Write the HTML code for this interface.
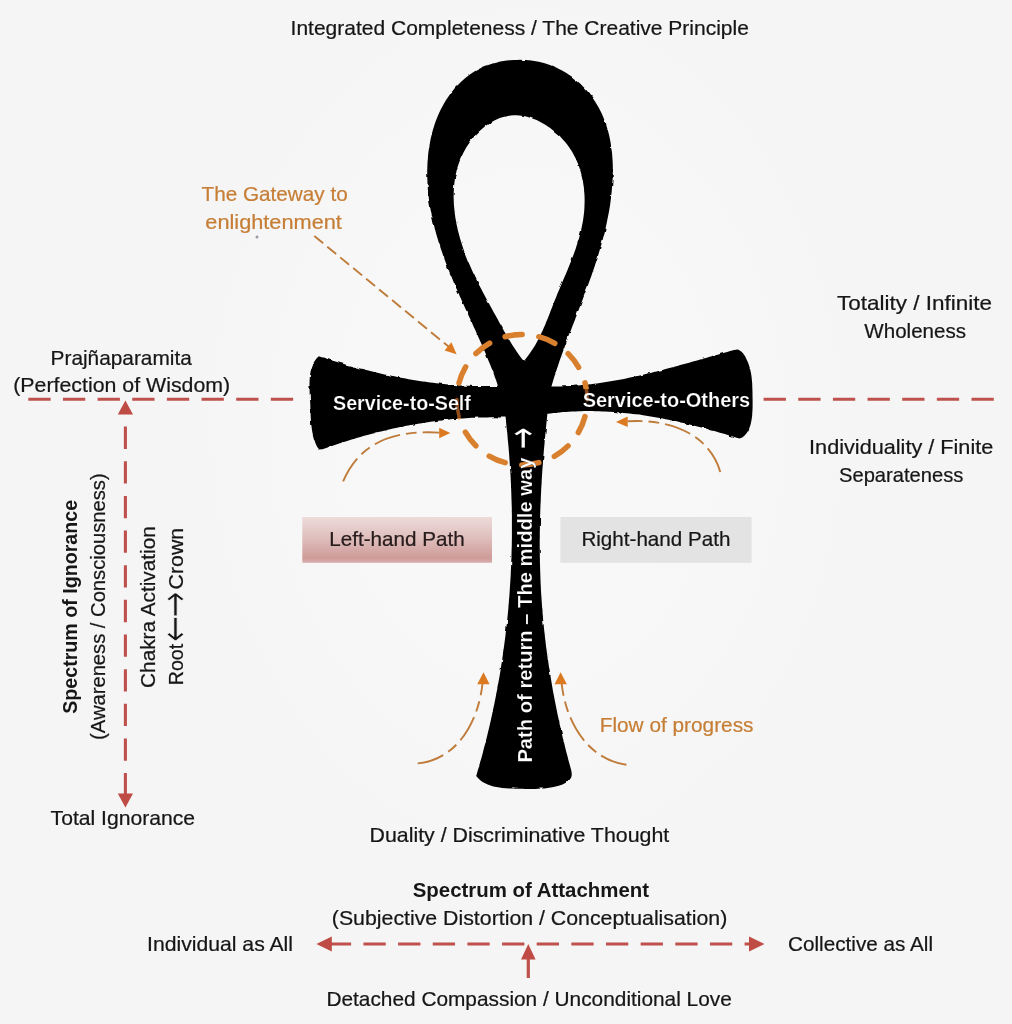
<!DOCTYPE html>
<html lang="en">
<head>
<meta charset="utf-8">
<title>Ankh diagram</title>
<style>
  html, body { margin: 0; padding: 0; background: #f5f5f5; }
  body { width: 1012px; height: 1024px; overflow: hidden; }
  svg { display: block; }
  text { font-family: "Liberation Sans", sans-serif; font-size: 20.3px; fill: #161616; stroke: #161616; stroke-width: 0.22px; }
  .b { font-weight: bold; stroke: none; }
  .ar { font-family: "DejaVu Sans", "Liberation Sans", sans-serif; font-size: 40px; stroke: #f6f6f6; stroke-width: 0.8px; }
  .ar2 { font-family: "DejaVu Sans", "Liberation Sans", sans-serif; font-size: 41px; fill: #ffffff; stroke: #000; stroke-width: 0.15px; }
  .o { fill: #c67e36; stroke: #c67e36; stroke-width: 0.22px; }
  .w { fill: #ffffff; font-weight: bold; stroke: #000; stroke-width: 0.2px; }
  .red { stroke: #bf514c; stroke-width: 3.1; fill: none; stroke-dasharray: 22.3 12.35; }
  .redfill { fill: #bf4b45; stroke: none; }
  .od { stroke: #bf7b3a; stroke-width: 1.9; fill: none; stroke-dasharray: 11.5 5.3; }
  .od2 { stroke: #bf7b3a; stroke-width: 1.9; fill: none; stroke-dasharray: 27 6 10.8 6; }
  .ofill { fill: #dc7a22; stroke: none; }
</style>
</head>
<body>
<svg width="1012" height="1024" viewBox="0 0 1012 1024">
  <defs>
    <linearGradient id="lg" x1="0" y1="0" x2="0" y2="1">
      <stop offset="0" stop-color="#ecdcda"/>
      <stop offset="0.45" stop-color="#dfbfbd"/>
      <stop offset="0.9" stop-color="#cf9b99"/>
      <stop offset="1" stop-color="#d9b0ae"/>
    </linearGradient>
    <filter id="rough" x="-2%" y="-2%" width="104%" height="104%">
      <feTurbulence type="fractalNoise" baseFrequency="0.11" numOctaves="2" seed="7" result="n"/>
      <feDisplacementMap in="SourceGraphic" in2="n" scale="2.6" xChannelSelector="R" yChannelSelector="G" result="d"/>
      <feGaussianBlur in="d" stdDeviation="0.45"/>
    </filter>
    <radialGradient id="glow" cx="0.5" cy="0.5" r="0.5">
      <stop offset="0" stop-color="#ffffff" stop-opacity="0.35"/>
      <stop offset="0.55" stop-color="#ffffff" stop-opacity="0.25"/>
      <stop offset="1" stop-color="#ffffff" stop-opacity="0"/>
    </radialGradient>
  </defs>
  <rect width="1012" height="1024" fill="#f5f5f5"/>
  <!-- soft white halo behind the ankh -->
  <ellipse cx="527" cy="430" rx="360" ry="480" fill="url(#glow)"/>

  <!-- boxes -->
  <rect x="302.3" y="517" width="189.7" height="45.8" fill="url(#lg)"/>
  <rect x="560.4" y="517" width="191.2" height="45.8" fill="#e3e3e3"/>

  <!-- ankh -->
  <path fill="#020202" fill-rule="evenodd" filter="url(#rough)" d="M516.8 59.9L520.0 59.8L523.2 59.9L526.4 60.0L529.5 60.3L532.7 60.7L535.7 61.2L538.8 61.8L541.8 62.5L544.7 63.3L547.7 64.2L550.5 65.3L553.4 66.4L556.2 67.6L558.9 68.9L561.6 70.3L564.2 71.7L566.8 73.3L569.3 74.9L571.7 76.6L574.1 78.4L576.4 80.3L578.7 82.3L580.9 84.3L583.0 86.4L585.0 88.5L587.0 90.7L588.9 93.0L590.7 95.3L592.5 97.7L594.2 100.2L595.8 102.7L597.3 105.2L598.8 107.8L600.2 110.4L601.5 113.1L602.7 115.8L603.8 118.6L604.9 121.3L605.9 124.1L606.8 127.0L607.7 129.8L608.5 132.7L609.2 135.6L609.8 138.5L610.4 141.5L610.9 144.5L611.3 147.4L611.7 150.4L612.1 153.5L612.3 156.5L612.5 159.5L612.7 162.6L612.8 165.6L612.8 168.7L612.8 171.8L612.8 174.8L612.7 177.9L612.5 181.0L612.3 184.1L612.1 187.1L611.8 190.2L611.5 193.3L611.2 196.3L610.8 199.4L610.4 202.4L610.0 205.4L609.5 208.5L609.0 211.5L608.4 214.5L607.8 217.4L607.2 220.4L606.6 223.4L606.0 226.3L605.3 229.3L604.6 232.2L603.8 235.2L603.1 238.1L602.3 241.0L601.5 243.9L600.7 246.8L599.8 249.7L599.0 252.6L598.1 255.5L597.2 258.4L596.3 261.3L595.3 264.2L594.4 267.0L593.4 269.9L592.4 272.7L591.5 275.6L590.4 278.4L589.4 281.3L588.4 284.1L587.4 287.0L586.3 289.8L585.3 292.6L584.2 295.5L583.1 298.3L582.1 301.1L581.0 304.0L579.9 306.8L578.8 309.6L577.7 312.4L576.7 315.3L575.6 318.1L574.5 320.9L573.4 323.7L572.3 326.6L571.2 329.4L570.1 332.2L569.1 335.0L568.0 337.9L566.9 340.7L565.9 343.5L564.8 346.4L563.8 349.2L562.8 352.0L561.7 354.9L560.7 357.7L559.7 360.6L558.7 363.5L557.8 366.3L556.8 369.2L555.9 372.1L554.9 374.9L554.0 377.8L553.1 380.7L552.3 383.6L551.4 386.5L554.5 386.5L557.5 386.5L560.6 386.4L563.6 386.3L566.7 386.2L569.7 386.0L572.8 385.9L575.8 385.6L578.8 385.4L581.9 385.1L584.9 384.8L587.9 384.5L591.0 384.2L594.0 383.8L597.0 383.4L600.0 383.0L603.0 382.5L606.0 382.1L609.0 381.6L612.0 381.1L615.0 380.6L618.0 380.0L621.0 379.4L624.0 378.9L627.0 378.3L630.0 377.6L633.0 377.0L635.9 376.3L638.9 375.7L641.9 375.0L644.9 374.3L647.8 373.6L650.8 372.9L653.8 372.1L656.7 371.4L659.7 370.6L662.6 369.9L665.6 369.1L668.5 368.3L671.5 367.5L674.4 366.7L677.4 365.9L680.3 365.1L683.3 364.3L686.2 363.5L689.2 362.7L692.1 361.8L695.0 361.0L698.0 360.2L700.9 359.3L703.8 358.5L706.8 357.7L709.7 356.8L712.6 356.0L715.6 355.2L718.5 354.4L721.4 353.5L724.3 352.7L727.2 351.9L730.2 351.1L733.1 350.3L736.0 349.5L738.9 350.0L741.3 351.5L743.4 353.7L745.2 356.5L746.6 359.4L747.9 362.3L749.0 365.3L749.9 368.2L750.6 371.2L751.2 374.2L751.6 377.2L751.9 380.3L752.2 383.4L752.3 386.5L752.4 389.7L752.5 392.9L752.5 396.2L752.6 399.5L752.6 402.9L752.6 406.3L752.5 409.7L752.3 413.0L752.1 416.3L751.6 419.5L751.0 422.7L750.3 425.6L749.2 428.4L748.0 431.1L746.4 433.5L744.6 435.6L742.3 437.4L739.5 438.6L736.6 437.7L733.7 436.8L730.7 435.9L727.8 435.0L724.9 434.1L722.0 433.3L719.0 432.4L716.1 431.6L713.2 430.7L710.2 429.9L707.3 429.1L704.3 428.3L701.4 427.5L698.4 426.7L695.4 426.0L692.5 425.2L689.5 424.5L686.5 423.8L683.6 423.1L680.6 422.4L677.6 421.7L674.6 421.1L671.7 420.4L668.7 419.8L665.7 419.2L662.7 418.6L659.7 418.1L656.7 417.5L653.7 417.0L650.7 416.5L647.7 416.0L644.7 415.5L641.7 415.1L638.7 414.6L635.7 414.2L632.7 413.9L629.6 413.5L626.6 413.2L623.6 412.9L620.6 412.6L617.5 412.3L614.5 412.1L611.5 411.8L608.5 411.7L605.4 411.5L602.4 411.4L599.3 411.2L596.3 411.2L593.3 411.1L590.2 411.1L587.2 411.1L584.1 411.1L581.1 411.2L578.0 411.2L575.0 411.4L571.9 411.5L568.8 411.7L565.8 411.9L562.7 412.1L559.7 412.4L556.6 412.7L553.5 413.0L550.5 413.4L547.4 413.8L547.1 416.8L546.8 419.8L546.5 422.8L546.2 425.8L545.9 428.9L545.6 431.9L545.3 434.9L545.0 437.9L544.7 440.9L544.5 444.0L544.2 447.0L543.9 450.0L543.7 453.0L543.4 456.0L543.2 459.1L543.0 462.1L542.8 465.1L542.5 468.1L542.3 471.2L542.1 474.2L541.9 477.2L541.7 480.2L541.6 483.3L541.4 486.3L541.2 489.3L541.1 492.3L540.9 495.4L540.8 498.4L540.7 501.4L540.5 504.5L540.4 507.5L540.3 510.5L540.2 513.5L540.1 516.6L540.0 519.6L540.0 522.6L539.9 525.6L539.9 528.7L539.8 531.7L539.8 534.7L539.8 537.8L539.7 540.8L539.7 543.8L539.7 546.8L539.8 549.9L539.8 552.9L539.8 555.9L539.9 558.9L539.9 562.0L540.0 565.0L540.1 568.0L540.2 571.0L540.3 574.1L540.4 577.1L540.5 580.1L540.6 583.1L540.8 586.1L540.9 589.2L541.1 592.2L541.3 595.2L541.5 598.2L541.7 601.2L541.9 604.3L542.1 607.3L542.4 610.3L542.6 613.3L542.9 616.3L543.1 619.3L543.4 622.3L543.7 625.3L544.0 628.3L544.3 631.3L544.7 634.3L545.0 637.4L545.4 640.4L545.7 643.4L546.1 646.4L546.5 649.4L546.9 652.4L547.3 655.4L547.7 658.3L548.2 661.3L548.6 664.3L549.0 667.3L549.5 670.3L550.0 673.3L550.5 676.3L551.0 679.3L551.5 682.3L552.0 685.2L552.5 688.2L553.0 691.2L553.6 694.2L554.2 697.2L554.7 700.1L555.3 703.1L555.9 706.1L556.5 709.0L557.1 712.0L557.7 715.0L558.4 718.0L559.0 720.9L559.6 723.9L560.3 726.8L561.0 729.8L561.7 732.7L562.3 735.7L563.0 738.7L563.8 741.6L564.5 744.6L565.2 747.5L565.9 750.4L566.7 753.4L567.5 756.3L568.2 759.3L569.0 762.2L569.8 765.1L570.6 768.1L571.4 771.0L571.8 774.4L571.3 777.3L569.9 779.6L567.8 781.5L565.3 783.1L562.5 784.4L559.5 785.4L556.6 786.3L553.6 787.0L550.6 787.6L547.5 788.1L544.4 788.4L541.3 788.6L538.2 788.8L535.0 788.9L531.9 788.9L528.7 788.9L525.4 788.9L522.2 788.8L518.9 788.8L515.6 788.7L512.3 788.6L509.0 788.5L505.8 788.3L502.6 788.0L499.4 787.6L496.4 787.1L493.4 786.4L490.5 785.5L487.7 784.5L485.1 783.3L482.6 781.9L480.3 780.2L478.2 778.2L476.2 776.0L477.1 773.1L477.9 770.1L478.8 767.2L479.6 764.3L480.4 761.3L481.3 758.4L482.1 755.5L482.9 752.5L483.6 749.6L484.4 746.6L485.2 743.7L485.9 740.7L486.7 737.8L487.4 734.8L488.1 731.8L488.8 728.9L489.5 725.9L490.2 722.9L490.9 720.0L491.5 717.0L492.2 714.0L492.8 711.1L493.4 708.1L494.1 705.1L494.7 702.1L495.3 699.1L495.9 696.1L496.4 693.1L497.0 690.2L497.6 687.2L498.1 684.2L498.6 681.2L499.2 678.2L499.7 675.2L500.2 672.2L500.7 669.2L501.1 666.2L501.6 663.2L502.1 660.2L502.5 657.2L503.0 654.1L503.4 651.1L503.8 648.1L504.2 645.1L504.6 642.1L505.0 639.1L505.4 636.0L505.7 633.0L506.1 630.0L506.4 627.0L506.8 624.0L507.1 620.9L507.4 617.9L507.7 614.9L508.0 611.9L508.3 608.8L508.5 605.8L508.8 602.8L509.0 599.7L509.3 596.7L509.5 593.7L509.7 590.6L509.9 587.6L510.1 584.6L510.3 581.5L510.5 578.5L510.7 575.5L510.8 572.4L511.0 569.4L511.1 566.3L511.2 563.3L511.3 560.3L511.5 557.2L511.5 554.2L511.6 551.1L511.7 548.1L511.8 545.1L511.8 542.0L511.9 539.0L511.9 535.9L511.9 532.9L511.9 529.9L511.9 526.8L511.9 523.8L511.9 520.7L511.9 517.7L511.9 514.6L511.8 511.6L511.8 508.6L511.7 505.5L511.6 502.5L511.5 499.4L511.4 496.4L511.3 493.3L511.2 490.3L511.1 487.3L511.0 484.2L510.8 481.2L510.7 478.1L510.5 475.1L510.3 472.1L510.1 469.0L509.9 466.0L509.7 463.0L509.5 459.9L509.3 456.9L509.1 453.9L508.8 450.8L508.6 447.8L508.3 444.8L508.0 441.7L507.7 438.7L507.5 435.7L507.2 432.6L506.8 429.6L506.5 426.6L506.2 423.5L505.9 420.5L505.5 417.5L502.4 417.4L499.3 417.4L496.3 417.3L493.2 417.3L490.1 417.3L487.0 417.4L484.0 417.4L480.9 417.5L477.8 417.6L474.8 417.7L471.7 417.8L468.6 418.0L465.6 418.2L462.5 418.4L459.5 418.6L456.4 418.9L453.4 419.1L450.3 419.4L447.3 419.7L444.2 420.1L441.2 420.4L438.2 420.8L435.1 421.2L432.1 421.6L429.1 422.0L426.1 422.4L423.0 422.9L420.0 423.4L417.0 423.9L414.0 424.4L411.0 425.0L408.0 425.5L405.0 426.1L402.0 426.7L399.0 427.3L396.0 428.0L393.0 428.6L390.0 429.3L387.0 430.0L384.0 430.7L381.1 431.4L378.1 432.1L375.1 432.9L372.2 433.7L369.2 434.5L366.3 435.3L363.3 436.1L360.4 436.9L357.4 437.8L354.5 438.7L351.6 439.5L348.6 440.5L345.7 441.4L342.8 442.3L339.9 443.3L337.0 444.2L334.1 445.2L331.2 446.2L328.3 447.2L325.4 448.3L322.5 449.3L319.4 449.5L317.4 447.3L316.0 444.4L314.9 441.4L313.9 438.4L313.1 435.4L312.4 432.4L311.9 429.4L311.5 426.3L311.1 423.3L310.9 420.2L310.7 417.0L310.6 413.9L310.5 410.7L310.4 407.4L310.3 404.2L310.1 400.8L309.9 397.5L309.7 394.1L309.6 390.8L309.5 387.4L309.5 384.1L309.6 380.8L309.8 377.6L310.1 374.5L310.6 371.5L311.4 368.6L312.3 365.8L313.5 363.1L315.0 360.6L316.7 358.3L318.8 356.2L321.7 357.2L324.7 358.1L327.6 359.0L330.6 360.0L333.5 360.9L336.5 361.8L339.5 362.7L342.4 363.6L345.4 364.4L348.4 365.3L351.4 366.1L354.4 366.9L357.3 367.7L360.3 368.5L363.3 369.3L366.3 370.1L369.3 370.8L372.3 371.6L375.3 372.3L378.4 373.0L381.4 373.7L384.4 374.4L387.4 375.0L390.4 375.7L393.5 376.3L396.5 376.9L399.5 377.5L402.6 378.1L405.6 378.6L408.7 379.2L411.7 379.7L414.8 380.2L417.8 380.7L420.9 381.2L423.9 381.6L427.0 382.0L430.0 382.4L433.1 382.8L436.2 383.2L439.3 383.5L442.3 383.9L445.4 384.2L448.5 384.4L451.6 384.7L454.6 384.9L457.7 385.2L460.8 385.4L463.9 385.5L467.0 385.7L470.1 385.8L473.2 385.9L476.3 386.0L479.4 386.1L482.5 386.1L485.6 386.1L488.7 386.1L491.8 386.1L494.9 386.0L498.0 385.9L497.0 383.1L496.1 380.3L495.0 377.4L494.0 374.6L493.0 371.8L491.9 369.0L490.8 366.2L489.7 363.5L488.5 360.7L487.4 357.9L486.2 355.1L485.1 352.3L483.9 349.5L482.7 346.8L481.5 344.0L480.2 341.2L479.0 338.5L477.8 335.7L476.5 332.9L475.3 330.1L474.0 327.4L472.7 324.6L471.5 321.8L470.2 319.1L468.9 316.3L467.7 313.5L466.4 310.8L465.1 308.0L463.9 305.2L462.6 302.4L461.4 299.7L460.1 296.9L458.9 294.1L457.7 291.3L456.4 288.5L455.2 285.7L454.0 282.9L452.8 280.1L451.7 277.3L450.5 274.5L449.4 271.7L448.2 268.8L447.1 266.0L446.0 263.2L445.0 260.4L443.9 257.5L442.9 254.7L441.9 251.8L440.9 248.9L440.0 246.1L439.0 243.2L438.1 240.3L437.3 237.4L436.4 234.5L435.6 231.6L434.8 228.7L434.1 225.7L433.3 222.8L432.7 219.8L432.0 216.9L431.4 213.9L430.8 210.9L430.3 207.9L429.8 204.9L429.3 201.9L428.9 198.9L428.6 195.9L428.2 192.8L427.9 189.8L427.7 186.7L427.5 183.7L427.4 180.6L427.3 177.5L427.2 174.5L427.2 171.4L427.3 168.4L427.4 165.3L427.5 162.2L427.8 159.2L428.0 156.2L428.3 153.1L428.7 150.1L429.2 147.1L429.7 144.2L430.2 141.2L430.8 138.2L431.5 135.3L432.2 132.4L433.0 129.5L433.9 126.7L434.8 123.8L435.8 121.0L436.9 118.3L438.0 115.5L439.2 112.8L440.5 110.1L441.8 107.5L443.2 104.9L444.7 102.3L446.2 99.8L447.8 97.4L449.5 95.0L451.2 92.6L453.0 90.4L454.9 88.1L456.9 86.0L458.9 83.9L460.9 81.9L463.1 79.9L465.3 78.0L467.6 76.2L469.9 74.5L472.4 72.8L474.8 71.3L477.4 69.8L480.0 68.4L482.7 67.1L485.5 66.0L488.3 64.9L491.2 63.9L494.2 63.0L497.2 62.2L500.3 61.5L503.4 61.0L506.7 60.5L510.0 60.2L513.4 60.0L516.8 59.9Z M523.8 361.1L525.8 358.7L527.7 356.3L529.5 353.8L531.2 351.3L532.9 348.8L534.5 346.3L536.0 343.7L537.4 341.1L538.8 338.4L540.2 335.8L541.4 333.1L542.7 330.4L543.9 327.6L545.1 324.9L546.2 322.1L547.3 319.4L548.5 316.6L549.6 313.8L550.6 311.0L551.7 308.2L552.8 305.4L553.9 302.6L555.0 299.7L556.2 296.9L557.3 294.1L558.5 291.3L559.7 288.5L560.8 285.7L562.0 282.9L563.2 280.1L564.4 277.3L565.6 274.5L566.8 271.7L567.9 268.9L569.1 266.0L570.2 263.2L571.4 260.4L572.4 257.6L573.5 254.7L574.5 251.9L575.6 249.0L576.5 246.1L577.4 243.3L578.3 240.4L579.2 237.5L580.0 234.6L580.7 231.7L581.4 228.7L582.0 225.8L582.6 222.8L583.1 219.9L583.5 216.9L583.9 213.9L584.2 210.9L584.4 207.9L584.5 204.9L584.6 201.9L584.6 198.8L584.5 195.8L584.3 192.8L584.1 189.8L583.8 186.9L583.3 183.9L582.9 181.0L582.3 178.0L581.6 175.1L580.8 172.3L580.0 169.4L579.0 166.6L578.0 163.8L576.8 161.1L575.6 158.3L574.2 155.7L572.8 153.1L571.3 150.5L569.6 147.9L567.9 145.5L566.0 143.0L564.0 140.7L561.9 138.4L559.8 136.1L557.5 134.0L555.1 131.9L552.6 129.9L550.1 128.0L547.5 126.2L544.9 124.5L542.1 122.9L539.4 121.4L536.6 120.1L533.7 118.9L530.9 117.9L528.0 117.0L525.1 116.3L522.2 115.8L519.3 115.4L516.4 115.3L513.6 115.3L510.7 115.5L507.9 115.9L505.1 116.5L502.4 117.2L499.7 118.1L497.0 119.2L494.4 120.5L491.8 121.9L489.3 123.4L486.9 125.0L484.5 126.8L482.2 128.7L479.9 130.7L477.7 132.8L475.6 135.0L473.6 137.3L471.7 139.7L469.8 142.2L468.1 144.7L466.4 147.3L464.9 150.0L463.4 152.7L462.1 155.4L460.8 158.2L459.7 161.0L458.7 163.8L457.7 166.7L456.9 169.6L456.2 172.5L455.6 175.5L455.0 178.4L454.6 181.4L454.2 184.4L454.0 187.4L453.8 190.4L453.7 193.5L453.6 196.5L453.7 199.6L453.8 202.6L454.0 205.7L454.3 208.8L454.6 211.8L455.0 214.9L455.4 217.9L456.0 220.9L456.5 224.0L457.2 227.0L457.8 230.0L458.6 233.0L459.4 235.9L460.2 238.9L461.1 241.8L462.0 244.7L462.9 247.5L463.9 250.4L464.9 253.2L466.0 256.0L467.1 258.8L468.2 261.6L469.4 264.3L470.6 267.1L471.8 269.8L473.0 272.5L474.3 275.2L475.6 277.9L476.9 280.6L478.3 283.3L479.6 285.9L481.0 288.6L482.4 291.3L483.8 293.9L485.2 296.5L486.6 299.2L488.0 301.8L489.5 304.4L490.9 307.1L492.4 309.7L493.8 312.4L495.3 315.0L496.7 317.6L498.2 320.3L499.6 322.9L501.1 325.6L502.6 328.2L504.0 330.9L505.5 333.5L507.0 336.1L508.6 338.7L510.1 341.3L511.7 343.9L513.3 346.4L515.0 349.0L516.6 351.5L518.4 353.9L520.1 356.4L521.9 358.7L523.8 361.1Z"/>

  <!-- red dashed axes -->
  <path class="red" d="M28.3 399.2H293.5"/>
  <path class="red" d="M763.6 399.2H994.5"/>
  <path class="red" d="M125.4 426.6V795"/>
  <path class="redfill" d="M125.4 400.6L133 414.6H117.8Z"/>
  <path class="redfill" d="M125.4 807.6L133 793.4H117.8Z"/>
  <path class="red" d="M328.8 944H750"/>
  <path class="redfill" d="M316.4 944L331.8 936.4V951.6Z"/>
  <path class="redfill" d="M764.4 944L749 936.4V951.6Z"/>
  <path d="M528.3 978V956" stroke="#bf514c" stroke-width="3.2" fill="none"/>
  <path class="redfill" d="M528.3 944L535.6 959.4H521Z"/>

  <!-- orange dashed circle -->
  <clipPath id="ak"><path clip-rule="evenodd" d="M516.8 59.9L520.0 59.8L523.2 59.9L526.4 60.0L529.5 60.3L532.7 60.7L535.7 61.2L538.8 61.8L541.8 62.5L544.7 63.3L547.7 64.2L550.5 65.3L553.4 66.4L556.2 67.6L558.9 68.9L561.6 70.3L564.2 71.7L566.8 73.3L569.3 74.9L571.7 76.6L574.1 78.4L576.4 80.3L578.7 82.3L580.9 84.3L583.0 86.4L585.0 88.5L587.0 90.7L588.9 93.0L590.7 95.3L592.5 97.7L594.2 100.2L595.8 102.7L597.3 105.2L598.8 107.8L600.2 110.4L601.5 113.1L602.7 115.8L603.8 118.6L604.9 121.3L605.9 124.1L606.8 127.0L607.7 129.8L608.5 132.7L609.2 135.6L609.8 138.5L610.4 141.5L610.9 144.5L611.3 147.4L611.7 150.4L612.1 153.5L612.3 156.5L612.5 159.5L612.7 162.6L612.8 165.6L612.8 168.7L612.8 171.8L612.8 174.8L612.7 177.9L612.5 181.0L612.3 184.1L612.1 187.1L611.8 190.2L611.5 193.3L611.2 196.3L610.8 199.4L610.4 202.4L610.0 205.4L609.5 208.5L609.0 211.5L608.4 214.5L607.8 217.4L607.2 220.4L606.6 223.4L606.0 226.3L605.3 229.3L604.6 232.2L603.8 235.2L603.1 238.1L602.3 241.0L601.5 243.9L600.7 246.8L599.8 249.7L599.0 252.6L598.1 255.5L597.2 258.4L596.3 261.3L595.3 264.2L594.4 267.0L593.4 269.9L592.4 272.7L591.5 275.6L590.4 278.4L589.4 281.3L588.4 284.1L587.4 287.0L586.3 289.8L585.3 292.6L584.2 295.5L583.1 298.3L582.1 301.1L581.0 304.0L579.9 306.8L578.8 309.6L577.7 312.4L576.7 315.3L575.6 318.1L574.5 320.9L573.4 323.7L572.3 326.6L571.2 329.4L570.1 332.2L569.1 335.0L568.0 337.9L566.9 340.7L565.9 343.5L564.8 346.4L563.8 349.2L562.8 352.0L561.7 354.9L560.7 357.7L559.7 360.6L558.7 363.5L557.8 366.3L556.8 369.2L555.9 372.1L554.9 374.9L554.0 377.8L553.1 380.7L552.3 383.6L551.4 386.5L554.5 386.5L557.5 386.5L560.6 386.4L563.6 386.3L566.7 386.2L569.7 386.0L572.8 385.9L575.8 385.6L578.8 385.4L581.9 385.1L584.9 384.8L587.9 384.5L591.0 384.2L594.0 383.8L597.0 383.4L600.0 383.0L603.0 382.5L606.0 382.1L609.0 381.6L612.0 381.1L615.0 380.6L618.0 380.0L621.0 379.4L624.0 378.9L627.0 378.3L630.0 377.6L633.0 377.0L635.9 376.3L638.9 375.7L641.9 375.0L644.9 374.3L647.8 373.6L650.8 372.9L653.8 372.1L656.7 371.4L659.7 370.6L662.6 369.9L665.6 369.1L668.5 368.3L671.5 367.5L674.4 366.7L677.4 365.9L680.3 365.1L683.3 364.3L686.2 363.5L689.2 362.7L692.1 361.8L695.0 361.0L698.0 360.2L700.9 359.3L703.8 358.5L706.8 357.7L709.7 356.8L712.6 356.0L715.6 355.2L718.5 354.4L721.4 353.5L724.3 352.7L727.2 351.9L730.2 351.1L733.1 350.3L736.0 349.5L738.9 350.0L741.3 351.5L743.4 353.7L745.2 356.5L746.6 359.4L747.9 362.3L749.0 365.3L749.9 368.2L750.6 371.2L751.2 374.2L751.6 377.2L751.9 380.3L752.2 383.4L752.3 386.5L752.4 389.7L752.5 392.9L752.5 396.2L752.6 399.5L752.6 402.9L752.6 406.3L752.5 409.7L752.3 413.0L752.1 416.3L751.6 419.5L751.0 422.7L750.3 425.6L749.2 428.4L748.0 431.1L746.4 433.5L744.6 435.6L742.3 437.4L739.5 438.6L736.6 437.7L733.7 436.8L730.7 435.9L727.8 435.0L724.9 434.1L722.0 433.3L719.0 432.4L716.1 431.6L713.2 430.7L710.2 429.9L707.3 429.1L704.3 428.3L701.4 427.5L698.4 426.7L695.4 426.0L692.5 425.2L689.5 424.5L686.5 423.8L683.6 423.1L680.6 422.4L677.6 421.7L674.6 421.1L671.7 420.4L668.7 419.8L665.7 419.2L662.7 418.6L659.7 418.1L656.7 417.5L653.7 417.0L650.7 416.5L647.7 416.0L644.7 415.5L641.7 415.1L638.7 414.6L635.7 414.2L632.7 413.9L629.6 413.5L626.6 413.2L623.6 412.9L620.6 412.6L617.5 412.3L614.5 412.1L611.5 411.8L608.5 411.7L605.4 411.5L602.4 411.4L599.3 411.2L596.3 411.2L593.3 411.1L590.2 411.1L587.2 411.1L584.1 411.1L581.1 411.2L578.0 411.2L575.0 411.4L571.9 411.5L568.8 411.7L565.8 411.9L562.7 412.1L559.7 412.4L556.6 412.7L553.5 413.0L550.5 413.4L547.4 413.8L547.1 416.8L546.8 419.8L546.5 422.8L546.2 425.8L545.9 428.9L545.6 431.9L545.3 434.9L545.0 437.9L544.7 440.9L544.5 444.0L544.2 447.0L543.9 450.0L543.7 453.0L543.4 456.0L543.2 459.1L543.0 462.1L542.8 465.1L542.5 468.1L542.3 471.2L542.1 474.2L541.9 477.2L541.7 480.2L541.6 483.3L541.4 486.3L541.2 489.3L541.1 492.3L540.9 495.4L540.8 498.4L540.7 501.4L540.5 504.5L540.4 507.5L540.3 510.5L540.2 513.5L540.1 516.6L540.0 519.6L540.0 522.6L539.9 525.6L539.9 528.7L539.8 531.7L539.8 534.7L539.8 537.8L539.7 540.8L539.7 543.8L539.7 546.8L539.8 549.9L539.8 552.9L539.8 555.9L539.9 558.9L539.9 562.0L540.0 565.0L540.1 568.0L540.2 571.0L540.3 574.1L540.4 577.1L540.5 580.1L540.6 583.1L540.8 586.1L540.9 589.2L541.1 592.2L541.3 595.2L541.5 598.2L541.7 601.2L541.9 604.3L542.1 607.3L542.4 610.3L542.6 613.3L542.9 616.3L543.1 619.3L543.4 622.3L543.7 625.3L544.0 628.3L544.3 631.3L544.7 634.3L545.0 637.4L545.4 640.4L545.7 643.4L546.1 646.4L546.5 649.4L546.9 652.4L547.3 655.4L547.7 658.3L548.2 661.3L548.6 664.3L549.0 667.3L549.5 670.3L550.0 673.3L550.5 676.3L551.0 679.3L551.5 682.3L552.0 685.2L552.5 688.2L553.0 691.2L553.6 694.2L554.2 697.2L554.7 700.1L555.3 703.1L555.9 706.1L556.5 709.0L557.1 712.0L557.7 715.0L558.4 718.0L559.0 720.9L559.6 723.9L560.3 726.8L561.0 729.8L561.7 732.7L562.3 735.7L563.0 738.7L563.8 741.6L564.5 744.6L565.2 747.5L565.9 750.4L566.7 753.4L567.5 756.3L568.2 759.3L569.0 762.2L569.8 765.1L570.6 768.1L571.4 771.0L571.8 774.4L571.3 777.3L569.9 779.6L567.8 781.5L565.3 783.1L562.5 784.4L559.5 785.4L556.6 786.3L553.6 787.0L550.6 787.6L547.5 788.1L544.4 788.4L541.3 788.6L538.2 788.8L535.0 788.9L531.9 788.9L528.7 788.9L525.4 788.9L522.2 788.8L518.9 788.8L515.6 788.7L512.3 788.6L509.0 788.5L505.8 788.3L502.6 788.0L499.4 787.6L496.4 787.1L493.4 786.4L490.5 785.5L487.7 784.5L485.1 783.3L482.6 781.9L480.3 780.2L478.2 778.2L476.2 776.0L477.1 773.1L477.9 770.1L478.8 767.2L479.6 764.3L480.4 761.3L481.3 758.4L482.1 755.5L482.9 752.5L483.6 749.6L484.4 746.6L485.2 743.7L485.9 740.7L486.7 737.8L487.4 734.8L488.1 731.8L488.8 728.9L489.5 725.9L490.2 722.9L490.9 720.0L491.5 717.0L492.2 714.0L492.8 711.1L493.4 708.1L494.1 705.1L494.7 702.1L495.3 699.1L495.9 696.1L496.4 693.1L497.0 690.2L497.6 687.2L498.1 684.2L498.6 681.2L499.2 678.2L499.7 675.2L500.2 672.2L500.7 669.2L501.1 666.2L501.6 663.2L502.1 660.2L502.5 657.2L503.0 654.1L503.4 651.1L503.8 648.1L504.2 645.1L504.6 642.1L505.0 639.1L505.4 636.0L505.7 633.0L506.1 630.0L506.4 627.0L506.8 624.0L507.1 620.9L507.4 617.9L507.7 614.9L508.0 611.9L508.3 608.8L508.5 605.8L508.8 602.8L509.0 599.7L509.3 596.7L509.5 593.7L509.7 590.6L509.9 587.6L510.1 584.6L510.3 581.5L510.5 578.5L510.7 575.5L510.8 572.4L511.0 569.4L511.1 566.3L511.2 563.3L511.3 560.3L511.5 557.2L511.5 554.2L511.6 551.1L511.7 548.1L511.8 545.1L511.8 542.0L511.9 539.0L511.9 535.9L511.9 532.9L511.9 529.9L511.9 526.8L511.9 523.8L511.9 520.7L511.9 517.7L511.9 514.6L511.8 511.6L511.8 508.6L511.7 505.5L511.6 502.5L511.5 499.4L511.4 496.4L511.3 493.3L511.2 490.3L511.1 487.3L511.0 484.2L510.8 481.2L510.7 478.1L510.5 475.1L510.3 472.1L510.1 469.0L509.9 466.0L509.7 463.0L509.5 459.9L509.3 456.9L509.1 453.9L508.8 450.8L508.6 447.8L508.3 444.8L508.0 441.7L507.7 438.7L507.5 435.7L507.2 432.6L506.8 429.6L506.5 426.6L506.2 423.5L505.9 420.5L505.5 417.5L502.4 417.4L499.3 417.4L496.3 417.3L493.2 417.3L490.1 417.3L487.0 417.4L484.0 417.4L480.9 417.5L477.8 417.6L474.8 417.7L471.7 417.8L468.6 418.0L465.6 418.2L462.5 418.4L459.5 418.6L456.4 418.9L453.4 419.1L450.3 419.4L447.3 419.7L444.2 420.1L441.2 420.4L438.2 420.8L435.1 421.2L432.1 421.6L429.1 422.0L426.1 422.4L423.0 422.9L420.0 423.4L417.0 423.9L414.0 424.4L411.0 425.0L408.0 425.5L405.0 426.1L402.0 426.7L399.0 427.3L396.0 428.0L393.0 428.6L390.0 429.3L387.0 430.0L384.0 430.7L381.1 431.4L378.1 432.1L375.1 432.9L372.2 433.7L369.2 434.5L366.3 435.3L363.3 436.1L360.4 436.9L357.4 437.8L354.5 438.7L351.6 439.5L348.6 440.5L345.7 441.4L342.8 442.3L339.9 443.3L337.0 444.2L334.1 445.2L331.2 446.2L328.3 447.2L325.4 448.3L322.5 449.3L319.4 449.5L317.4 447.3L316.0 444.4L314.9 441.4L313.9 438.4L313.1 435.4L312.4 432.4L311.9 429.4L311.5 426.3L311.1 423.3L310.9 420.2L310.7 417.0L310.6 413.9L310.5 410.7L310.4 407.4L310.3 404.2L310.1 400.8L309.9 397.5L309.7 394.1L309.6 390.8L309.5 387.4L309.5 384.1L309.6 380.8L309.8 377.6L310.1 374.5L310.6 371.5L311.4 368.6L312.3 365.8L313.5 363.1L315.0 360.6L316.7 358.3L318.8 356.2L321.7 357.2L324.7 358.1L327.6 359.0L330.6 360.0L333.5 360.9L336.5 361.8L339.5 362.7L342.4 363.6L345.4 364.4L348.4 365.3L351.4 366.1L354.4 366.9L357.3 367.7L360.3 368.5L363.3 369.3L366.3 370.1L369.3 370.8L372.3 371.6L375.3 372.3L378.4 373.0L381.4 373.7L384.4 374.4L387.4 375.0L390.4 375.7L393.5 376.3L396.5 376.9L399.5 377.5L402.6 378.1L405.6 378.6L408.7 379.2L411.7 379.7L414.8 380.2L417.8 380.7L420.9 381.2L423.9 381.6L427.0 382.0L430.0 382.4L433.1 382.8L436.2 383.2L439.3 383.5L442.3 383.9L445.4 384.2L448.5 384.4L451.6 384.7L454.6 384.9L457.7 385.2L460.8 385.4L463.9 385.5L467.0 385.7L470.1 385.8L473.2 385.9L476.3 386.0L479.4 386.1L482.5 386.1L485.6 386.1L488.7 386.1L491.8 386.1L494.9 386.0L498.0 385.9L497.0 383.1L496.1 380.3L495.0 377.4L494.0 374.6L493.0 371.8L491.9 369.0L490.8 366.2L489.7 363.5L488.5 360.7L487.4 357.9L486.2 355.1L485.1 352.3L483.9 349.5L482.7 346.8L481.5 344.0L480.2 341.2L479.0 338.5L477.8 335.7L476.5 332.9L475.3 330.1L474.0 327.4L472.7 324.6L471.5 321.8L470.2 319.1L468.9 316.3L467.7 313.5L466.4 310.8L465.1 308.0L463.9 305.2L462.6 302.4L461.4 299.7L460.1 296.9L458.9 294.1L457.7 291.3L456.4 288.5L455.2 285.7L454.0 282.9L452.8 280.1L451.7 277.3L450.5 274.5L449.4 271.7L448.2 268.8L447.1 266.0L446.0 263.2L445.0 260.4L443.9 257.5L442.9 254.7L441.9 251.8L440.9 248.9L440.0 246.1L439.0 243.2L438.1 240.3L437.3 237.4L436.4 234.5L435.6 231.6L434.8 228.7L434.1 225.7L433.3 222.8L432.7 219.8L432.0 216.9L431.4 213.9L430.8 210.9L430.3 207.9L429.8 204.9L429.3 201.9L428.9 198.9L428.6 195.9L428.2 192.8L427.9 189.8L427.7 186.7L427.5 183.7L427.4 180.6L427.3 177.5L427.2 174.5L427.2 171.4L427.3 168.4L427.4 165.3L427.5 162.2L427.8 159.2L428.0 156.2L428.3 153.1L428.7 150.1L429.2 147.1L429.7 144.2L430.2 141.2L430.8 138.2L431.5 135.3L432.2 132.4L433.0 129.5L433.9 126.7L434.8 123.8L435.8 121.0L436.9 118.3L438.0 115.5L439.2 112.8L440.5 110.1L441.8 107.5L443.2 104.9L444.7 102.3L446.2 99.8L447.8 97.4L449.5 95.0L451.2 92.6L453.0 90.4L454.9 88.1L456.9 86.0L458.9 83.9L460.9 81.9L463.1 79.9L465.3 78.0L467.6 76.2L469.9 74.5L472.4 72.8L474.8 71.3L477.4 69.8L480.0 68.4L482.7 67.1L485.5 66.0L488.3 64.9L491.2 63.9L494.2 63.0L497.2 62.2L500.3 61.5L503.4 61.0L506.7 60.5L510.0 60.2L513.4 60.0L516.8 59.9Z M523.8 361.1L525.8 358.7L527.7 356.3L529.5 353.8L531.2 351.3L532.9 348.8L534.5 346.3L536.0 343.7L537.4 341.1L538.8 338.4L540.2 335.8L541.4 333.1L542.7 330.4L543.9 327.6L545.1 324.9L546.2 322.1L547.3 319.4L548.5 316.6L549.6 313.8L550.6 311.0L551.7 308.2L552.8 305.4L553.9 302.6L555.0 299.7L556.2 296.9L557.3 294.1L558.5 291.3L559.7 288.5L560.8 285.7L562.0 282.9L563.2 280.1L564.4 277.3L565.6 274.5L566.8 271.7L567.9 268.9L569.1 266.0L570.2 263.2L571.4 260.4L572.4 257.6L573.5 254.7L574.5 251.9L575.6 249.0L576.5 246.1L577.4 243.3L578.3 240.4L579.2 237.5L580.0 234.6L580.7 231.7L581.4 228.7L582.0 225.8L582.6 222.8L583.1 219.9L583.5 216.9L583.9 213.9L584.2 210.9L584.4 207.9L584.5 204.9L584.6 201.9L584.6 198.8L584.5 195.8L584.3 192.8L584.1 189.8L583.8 186.9L583.3 183.9L582.9 181.0L582.3 178.0L581.6 175.1L580.8 172.3L580.0 169.4L579.0 166.6L578.0 163.8L576.8 161.1L575.6 158.3L574.2 155.7L572.8 153.1L571.3 150.5L569.6 147.9L567.9 145.5L566.0 143.0L564.0 140.7L561.9 138.4L559.8 136.1L557.5 134.0L555.1 131.9L552.6 129.9L550.1 128.0L547.5 126.2L544.9 124.5L542.1 122.9L539.4 121.4L536.6 120.1L533.7 118.9L530.9 117.9L528.0 117.0L525.1 116.3L522.2 115.8L519.3 115.4L516.4 115.3L513.6 115.3L510.7 115.5L507.9 115.9L505.1 116.5L502.4 117.2L499.7 118.1L497.0 119.2L494.4 120.5L491.8 121.9L489.3 123.4L486.9 125.0L484.5 126.8L482.2 128.7L479.9 130.7L477.7 132.8L475.6 135.0L473.6 137.3L471.7 139.7L469.8 142.2L468.1 144.7L466.4 147.3L464.9 150.0L463.4 152.7L462.1 155.4L460.8 158.2L459.7 161.0L458.7 163.8L457.7 166.7L456.9 169.6L456.2 172.5L455.6 175.5L455.0 178.4L454.6 181.4L454.2 184.4L454.0 187.4L453.8 190.4L453.7 193.5L453.6 196.5L453.7 199.6L453.8 202.6L454.0 205.7L454.3 208.8L454.6 211.8L455.0 214.9L455.4 217.9L456.0 220.9L456.5 224.0L457.2 227.0L457.8 230.0L458.6 233.0L459.4 235.9L460.2 238.9L461.1 241.8L462.0 244.7L462.9 247.5L463.9 250.4L464.9 253.2L466.0 256.0L467.1 258.8L468.2 261.6L469.4 264.3L470.6 267.1L471.8 269.8L473.0 272.5L474.3 275.2L475.6 277.9L476.9 280.6L478.3 283.3L479.6 285.9L481.0 288.6L482.4 291.3L483.8 293.9L485.2 296.5L486.6 299.2L488.0 301.8L489.5 304.4L490.9 307.1L492.4 309.7L493.8 312.4L495.3 315.0L496.7 317.6L498.2 320.3L499.6 322.9L501.1 325.6L502.6 328.2L504.0 330.9L505.5 333.5L507.0 336.1L508.6 338.7L510.1 341.3L511.7 343.9L513.3 346.4L515.0 349.0L516.6 351.5L518.4 353.9L520.1 356.4L521.9 358.7L523.8 361.1Z"/></clipPath>
  <clipPath id="arms"><rect x="300" y="391" width="205" height="27"/><rect x="550" y="389" width="210" height="26"/></clipPath>
  <g transform="rotate(-105 522 399.7)" fill="none" stroke-linecap="round" stroke-width="5.5" stroke-dasharray="15.2 14.8">
    <circle cx="522" cy="399.7" r="65.2" pathLength="360" stroke="#d9802f"/>
  </g>
  <g clip-path="url(#ak)"><g clip-path="url(#arms)">
    <g transform="rotate(-105 522 399.7)" fill="none" stroke-linecap="round" stroke-width="6.2" stroke-dasharray="15.2 14.8">
      <circle cx="522" cy="399.7" r="65.2" pathLength="360" stroke="#000000"/>
    </g>
    <g transform="rotate(-105 522 399.7)" fill="none" stroke-linecap="round" stroke-width="3.6" stroke-dasharray="15.2 14.8">
      <circle cx="522" cy="399.7" r="65.2" pathLength="360" stroke="#8f4d1e"/>
    </g>
  </g></g>

  <!-- orange thin dashed arrows -->
  <path class="od" d="M314.3 236L450 347.8"/>
  <path class="ofill" d="M456.6 354.2L444.6 350.6L451.4 342.2Z"/>

  <path class="od2" d="M343.1 481.4C356.7 449.2 384.5 429.3 439.5 432.6"/>
  <path class="ofill" d="M450.3 433L439.2 427.7V438.3Z"/>

  <path class="od2" d="M720.3 471.9C711.1 439.3 677.5 418.3 627.5 421.3"/>
  <path class="ofill" d="M615.9 421.9L627.7 416.5V427.1Z"/>

  <path class="od2" d="M417.7 763.4C455 760 478 725 482.6 683"/>
  <path class="ofill" d="M483.5 672.3L489.6 684.2H477.2Z"/>

  <path class="od2" d="M626.4 764.7C590 760 566 725 561.6 683"/>
  <path class="ofill" d="M560.6 672.3L566.9 684.2H554.5Z"/>

  <circle cx="257" cy="237" r="1.5" fill="#9a9aa5"/>

  <!-- text -->
  <g opacity="0.999">
  <text x="290.6" y="34.7" textLength="458.3" lengthAdjust="spacingAndGlyphs">Integrated Completeness / The Creative Principle</text>

  <text class="o" x="201.5" y="200.9" textLength="146.2" lengthAdjust="spacingAndGlyphs">The Gateway to</text>
  <text class="o" x="205.3" y="228.7" textLength="136.6" lengthAdjust="spacingAndGlyphs">enlightenment</text>

  <text x="837" y="310.4" textLength="155" lengthAdjust="spacingAndGlyphs">Totality / Infinite</text>
  <text x="864.3" y="337.7" textLength="101.7" lengthAdjust="spacingAndGlyphs">Wholeness</text>
  <text x="809.1" y="453.9" textLength="184.2" lengthAdjust="spacingAndGlyphs">Individuality / Finite</text>
  <text x="839" y="481.7" textLength="124.4" lengthAdjust="spacingAndGlyphs">Separateness</text>

  <text x="50.6" y="364.6" textLength="141.2" lengthAdjust="spacingAndGlyphs">Prajñaparamita</text>
  <text x="13.2" y="391.7" textLength="217" lengthAdjust="spacingAndGlyphs">(Perfection of Wisdom)</text>
  <text x="50.6" y="825.1" textLength="144.5" lengthAdjust="spacingAndGlyphs">Total Ignorance</text>

  <text class="w" x="333" y="409.7" textLength="137.9" lengthAdjust="spacingAndGlyphs">Service-to-Self</text>
  <text class="w" x="582.7" y="406.6" textLength="167.5" lengthAdjust="spacingAndGlyphs">Service-to-Others</text>

  <text x="329.3" y="546.1" textLength="135.4" lengthAdjust="spacingAndGlyphs" style="fill:#2a1c1c">Left-hand Path</text>
  <text x="581.4" y="545.8" textLength="149" lengthAdjust="spacingAndGlyphs">Right-hand Path</text>

  <text class="o" x="599.7" y="732.2" textLength="153.8" lengthAdjust="spacingAndGlyphs">Flow of progress</text>

  <text x="369.5" y="842" textLength="299.7" lengthAdjust="spacingAndGlyphs">Duality / Discriminative Thought</text>

  <text class="b" x="412.7" y="896.8" textLength="236.4" lengthAdjust="spacingAndGlyphs">Spectrum of Attachment</text>
  <text x="331.8" y="925" textLength="395.5" lengthAdjust="spacingAndGlyphs">(Subjective Distortion / Conceptualisation)</text>
  <text x="147" y="951" textLength="146" lengthAdjust="spacingAndGlyphs">Individual as All</text>
  <text x="788" y="951" textLength="145" lengthAdjust="spacingAndGlyphs">Collective as All</text>
  <text x="326.4" y="1005.9" textLength="405.4" lengthAdjust="spacingAndGlyphs">Detached Compassion / Unconditional Love</text>

  <!-- rotated text -->
  <text class="b" transform="translate(77.4 713.8) rotate(-90)" textLength="213.9" lengthAdjust="spacingAndGlyphs">Spectrum of Ignorance</text>
  <text transform="translate(105 739.9) rotate(-90)" textLength="266.5" lengthAdjust="spacingAndGlyphs">(Awareness / Consciousness)</text>
  <text transform="translate(154.8 687.9) rotate(-90)" textLength="161.7" lengthAdjust="spacingAndGlyphs">Chakra Activation</text>
  <text transform="translate(182.7 685.2) rotate(-90)" textLength="41.3" lengthAdjust="spacingAndGlyphs">Root</text>
  <text class="ar" transform="translate(188 642) rotate(-90)" textLength="26.2" lengthAdjust="spacingAndGlyphs">←</text>
  <text class="ar" transform="translate(188 617.4) rotate(-90)" textLength="26.2" lengthAdjust="spacingAndGlyphs">→</text>
  <text transform="translate(182.7 589.4) rotate(-90)" textLength="61.5" lengthAdjust="spacingAndGlyphs">Crown</text>
  <text class="w" transform="translate(531.6 762.6) rotate(-90)" textLength="305" lengthAdjust="spacingAndGlyphs">Path of return – The middle way</text>
  <text class="ar2" transform="translate(536 448.9) rotate(-90)" textLength="21.6" lengthAdjust="spacingAndGlyphs">→</text>
  </g>
</svg>
</body>
</html>
